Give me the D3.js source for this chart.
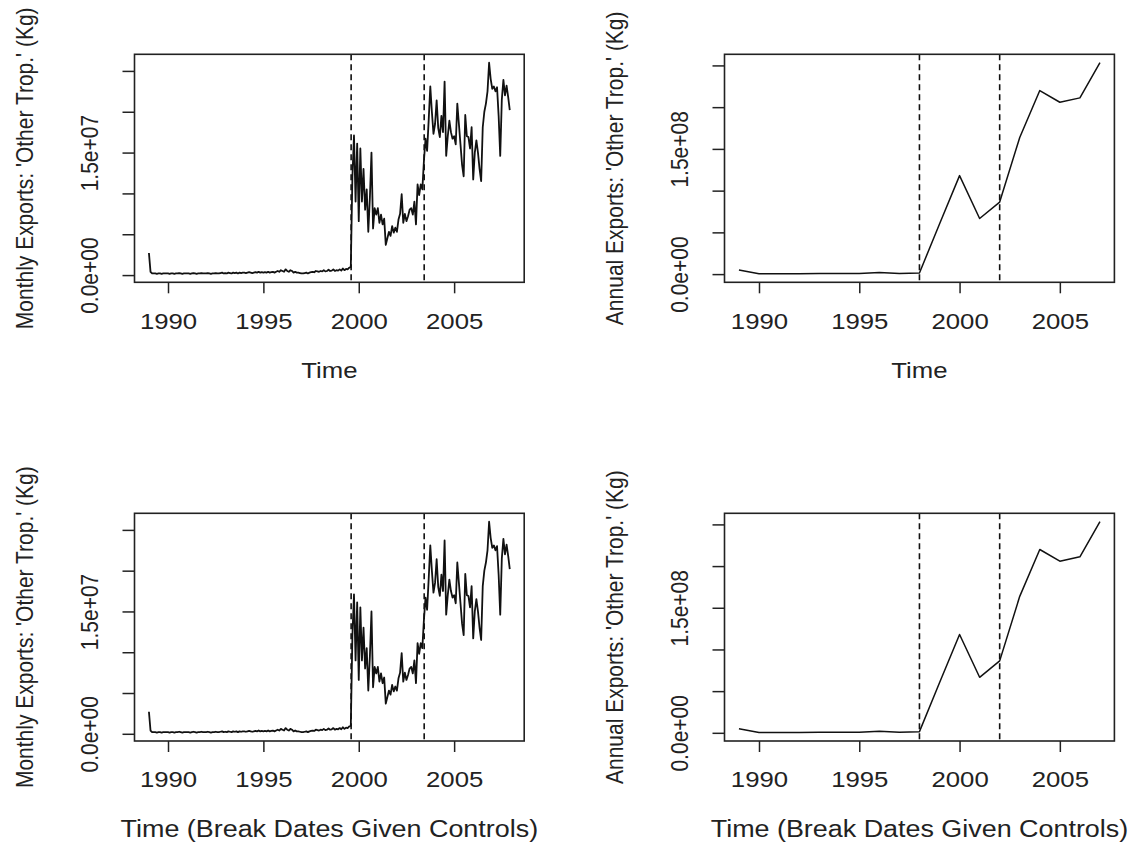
<!DOCTYPE html>
<html>
<head>
<meta charset="utf-8">
<script src="https://cdnjs.cloudflare.com/ajax/libs/d3/7.8.5/d3.min.js"></script>
<style>
    body { margin: 0; background: #fff; }
    svg text { font-family: "Liberation Sans", Arial, Helvetica, sans-serif; fill: #222; }
</style>
</head>
<body>
<svg id="chart" width="1136" height="846"></svg>
<script>
// monthly exports of 'Other Trop.', Jan 1989 .. Dec 2007, millions of kg
const monthlyStart = 1989;
const monthlyExports = [
    2.7, 0.4, 0.2, 0.2, 0.2, 0.15, 0.2, 0.2, 0.15, 0.2, 0.2, 0.2,
    0.2, 0.15, 0.2, 0.2, 0.15, 0.2, 0.2, 0.25, 0.2, 0.15, 0.2, 0.2,
    0.2, 0.2, 0.15, 0.2, 0.25, 0.2, 0.15, 0.2, 0.2, 0.25, 0.2, 0.2,
    0.2, 0.25, 0.2, 0.15, 0.2, 0.2, 0.25, 0.2, 0.2, 0.25, 0.3, 0.2,
    0.25, 0.2, 0.3, 0.25, 0.2, 0.3, 0.25, 0.3, 0.2, 0.3, 0.25, 0.3,
    0.3, 0.25, 0.3, 0.35, 0.3, 0.25, 0.3, 0.35, 0.3, 0.4, 0.3, 0.35,
    0.3, 0.35, 0.3, 0.4, 0.3, 0.35, 0.4, 0.3, 0.4, 0.5, 0.4, 0.6,
    0.5, 0.4, 0.7, 0.5, 0.4, 0.6, 0.5, 0.3, 0.4, 0.3, 0.3, 0.25,
    0.2, 0.2, 0.25, 0.3, 0.2, 0.3, 0.35, 0.4, 0.35, 0.5, 0.45, 0.4,
    0.5, 0.45, 0.6, 0.45, 0.5, 0.65, 0.5, 0.55, 0.7, 0.5, 0.6, 0.55,
    0.7, 0.55, 0.8, 0.6, 0.75, 0.7, 0.9, 1.0, 12.0, 17.1, 9.0, 16.1,
    6.6, 15.5, 9.0, 13.0, 8.0, 10.5, 5.3, 9.5, 15.0, 5.7, 8.2, 7.4,
    8.2, 6.4, 7.4, 6.2, 6.9, 3.7, 4.5, 5.3, 4.8, 6.0, 5.2, 5.8,
    5.3, 6.8, 7.5, 9.9, 6.4, 7.5, 6.6, 7.2, 8.0, 8.2, 7.4, 9.0,
    6.2, 11.1, 9.8, 11.1, 10.5, 14.0, 16.7, 15.2, 19.0, 23.1, 20.0, 17.3,
    18.5, 21.4, 18.0, 16.9, 19.5, 17.5, 23.7, 14.6, 17.0, 18.9, 17.5, 16.7,
    17.0, 16.0, 21.0, 18.5, 16.0, 13.5, 12.1, 19.6, 17.0, 16.9, 15.5, 18.1,
    11.7, 15.0, 16.5, 15.0, 13.0, 11.5, 18.1, 20.0, 21.0, 22.5, 26.0, 24.0,
    22.8, 23.1, 22.5, 23.0, 19.5, 14.6, 21.5, 23.9, 22.0, 23.2, 21.8, 20.2
];
const monthlyBreaks = [1999.6, 2003.43];

// annual exports, millions of kg
const annualYears = [1989, 1990, 1991, 1992, 1993, 1994, 1995, 1996, 1997, 1998,
    1999, 2000, 2001, 2002, 2003, 2004, 2005, 2006, 2007];
const annualExports = [4.8, 0.5, 0.4, 0.3, 0.6, 0.8, 0.7, 1.8, 0.6, 1.4,
    60.0, 118.0, 66.6, 86.3, 163.7, 219.9, 205.9, 211.1, 253.2];
const annualBreaks = [1998, 2002];

const xTicks = [1990, 1995, 2000, 2005];
const monthlyTicks = [0, 5, 10, 15, 20, 25];
const monthlyTickLabels = ["0.0e+00", "", "", "1.5e+07", "", ""];
const annualTicks = [0, 50, 100, 150, 200, 250];
const annualTickLabels = ["0.0e+00", "", "", "1.5e+08", "", ""];

const monthlyTitle = "Monthly Exports: 'Other Trop.' (Kg)";
const annualTitle = "Annual Exports: 'Other Trop.' (Kg)";

const monthlyTimes = monthlyExports.map((d, i) => monthlyStart + i / 12);

// the picture is stretched sideways, text follows it
const stretchX = 1.17;
const svg = d3.select("#chart");

const panels = [
    { times: monthlyTimes, values: monthlyExports, breaks: monthlyBreaks, ticks: monthlyTicks, tickLabels: monthlyTickLabels,
      yTitle: monthlyTitle, xTitle: "Time", titleSize: 22, lineWidth: 1.8,
      left: 134.5, right: 524.2, top: 54.3, bottom: 282.3 },
    { times: annualYears, values: annualExports, breaks: annualBreaks, ticks: annualTicks, tickLabels: annualTickLabels,
      yTitle: annualTitle, xTitle: "Time", titleSize: 22, lineWidth: 1.5,
      left: 724.5, right: 1114.4, top: 54.3, bottom: 282.3 },
    { times: monthlyTimes, values: monthlyExports, breaks: monthlyBreaks, ticks: monthlyTicks, tickLabels: monthlyTickLabels,
      yTitle: monthlyTitle, xTitle: "Time (Break Dates Given Controls)", titleSize: 23, lineWidth: 1.8,
      left: 134.5, right: 524.2, top: 513.3, bottom: 741 },
    { times: annualYears, values: annualExports, breaks: annualBreaks, ticks: annualTicks, tickLabels: annualTickLabels,
      yTitle: annualTitle, xTitle: "Time (Break Dates Given Controls)", titleSize: 23, lineWidth: 1.5,
      left: 724.5, right: 1114.4, top: 513.3, bottom: 741 }
];

// R style limits: data range plus 4% each side
function padded(ext) {
    const p = (ext[1] - ext[0]) * 0.04;
    return [ext[0] - p, ext[1] + p];
}

function drawPanel(cfg) {
    const g = svg.append("g");

    const x = d3.scaleLinear()
        .domain(padded(d3.extent(cfg.times)))
        .range([cfg.left, cfg.right]);
    const y = d3.scaleLinear()
        .domain(padded(d3.extent(cfg.values)))
        .range([cfg.bottom, cfg.top]);

    g.append("path")
        .datum(cfg.values)
        .attr("fill", "none")
        .attr("stroke", "#111")
        .attr("stroke-width", cfg.lineWidth)
        .attr("stroke-linejoin", "round")
        .attr("d", d3.line().x((d, i) => x(cfg.times[i])).y(d => y(d)));

    g.selectAll(".brk")
        .data(cfg.breaks)
        .join("line")
        .attr("class", "brk")
        .attr("x1", d => x(d)).attr("x2", d => x(d))
        .attr("y1", cfg.top).attr("y2", cfg.bottom)
        .attr("stroke", "#111")
        .attr("stroke-width", 1.6)
        .attr("stroke-dasharray", "6,4");

    g.append("rect")
        .attr("x", cfg.left).attr("y", cfg.top)
        .attr("width", cfg.right - cfg.left).attr("height", cfg.bottom - cfg.top)
        .attr("fill", "none")
        .attr("stroke", "#222")
        .attr("stroke-width", 1.6);

    // x axis
    const xa = g.append("g")
        .attr("transform", `translate(0,${cfg.bottom})`)
        .call(d3.axisBottom(x).tickValues(xTicks).tickSize(11).tickSizeOuter(0).tickFormat(d3.format("d")));
    xa.select(".domain").remove();
    xa.selectAll("line").attr("stroke", "#222").attr("stroke-width", 1.5);
    xa.selectAll("text")
        .attr("y", 46.3).attr("dy", null)
        .attr("transform", `scale(${stretchX},1)`)
        .style("font-size", "22px");

    // y axis, labels turned like R's las = 0
    const ya = g.append("g")
        .attr("transform", `translate(${cfg.left},0)`)
        .call(d3.axisLeft(y).tickValues(cfg.ticks).tickSize(12).tickSizeOuter(0)
            .tickFormat((d, i) => cfg.tickLabels[i]));
    ya.select(".domain").remove();
    ya.selectAll("line").attr("stroke", "#222").attr("stroke-width", 1.5);
    ya.selectAll("text")
        .attr("x", 0).attr("y", 0).attr("dy", null)
        .attr("text-anchor", "middle")
        .attr("transform", `translate(-37,0) scale(${stretchX},1) rotate(-90)`)
        .style("font-size", "21px");

    g.append("text")
        .attr("transform", `translate(${(cfg.left + cfg.right) / 2},${cfg.bottom + 95.5}) scale(${stretchX},1)`)
        .attr("text-anchor", "middle")
        .style("font-size", cfg.titleSize + "px")
        .text(cfg.xTitle);

    g.append("text")
        .attr("transform", `translate(${cfg.left - 102},${(cfg.top + cfg.bottom) / 2}) scale(${stretchX},1) rotate(-90)`)
        .attr("text-anchor", "middle")
        .style("font-size", "21px")
        .text(cfg.yTitle);
}

panels.forEach(drawPanel);
</script>
</body>
</html>
